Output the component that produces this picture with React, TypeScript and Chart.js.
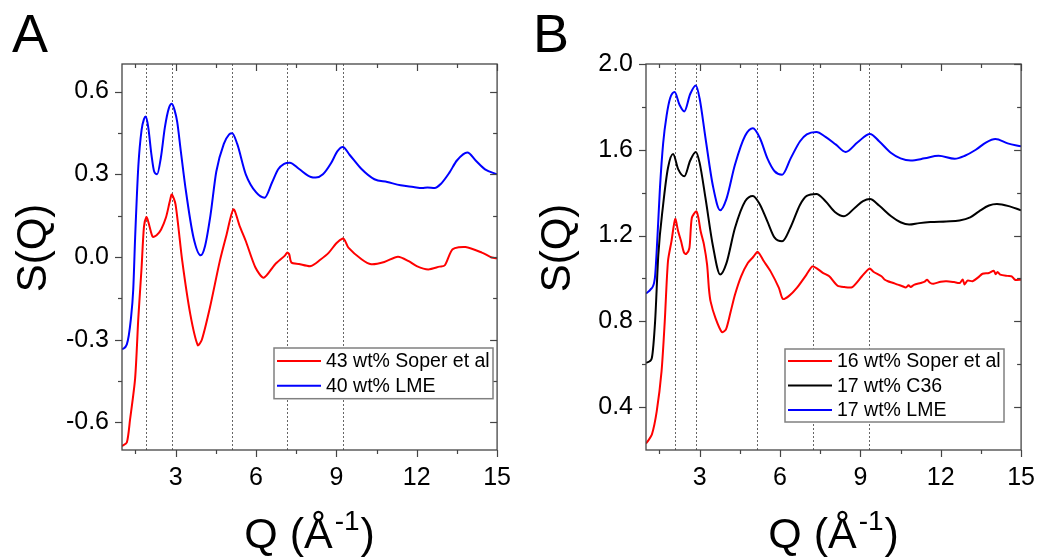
import React, { useEffect, useRef } from "react";
import { Chart, registerables } from "chart.js";

Chart.register(...registerables);

const FONT = "'Liberation Sans', Arial, sans-serif";

// ---------- axis ticks ----------
const xTicks = [3, 6, 9, 12, 15];
const xMinorTicks = [1.5, 4.5, 7.5, 10.5, 13.5];
const yTicksA = [-0.6, -0.3, 0, 0.3, 0.6];
const yMinorA = [-0.45, -0.15, 0.15, 0.45];
const yTicksB = [0.4, 0.8, 1.2, 1.6, 2.0];
const yMinorB = [0.6, 1.0, 1.4, 1.8];

// ---------- peak reference lines ----------
const peakLinesA = [1.91, 2.86, 5.1, 7.16, 9.24];
const peakLinesB = [2.09, 2.87, 5.13, 7.22, 9.31];

// ---------- panel A series ----------
const qRedA = [1.0, 1.18, 1.3, 1.49, 1.61, 1.73, 1.82, 1.91, 1.96, 2.03, 2.15, 2.3, 2.46, 2.64, 2.78, 2.86, 3.0, 3.25, 3.55, 3.83, 3.98, 4.28, 4.65, 4.9, 5.16, 5.4, 5.62, 5.98, 6.29, 6.71, 7.08, 7.16, 7.24, 7.32, 7.6, 8.05, 8.4, 8.72, 9.0, 9.24, 9.32, 9.45, 9.94, 10.3, 10.79, 11.3, 11.7, 12.0, 12.43, 12.85, 13.05, 13.34, 13.82, 14.43, 14.8, 15.0];
const sRedA = [-0.686, -0.673, -0.59, -0.44, -0.22, -0.04, 0.11, 0.145, 0.135, 0.11, 0.073, 0.08, 0.1, 0.143, 0.2, 0.227, 0.19, -0.015, -0.208, -0.32, -0.3, -0.184, -0.015, 0.08, 0.173, 0.11, 0.058, -0.038, -0.075, -0.027, 0.005, 0.016, 0.01, -0.02, -0.025, -0.033, -0.01, 0.016, 0.05, 0.067, 0.06, 0.034, -0.008, -0.026, -0.018, 0.001, -0.015, -0.033, -0.045, -0.035, -0.03, 0.028, 0.036, 0.016, -0.002, -0.005];

const qBlueA = [1.0, 1.18, 1.33, 1.42, 1.49, 1.61, 1.73, 1.82, 1.89, 1.98, 2.1, 2.2, 2.31, 2.45, 2.6, 2.75, 2.86, 2.97, 3.06, 3.2, 3.37, 3.67, 3.94, 4.1, 4.3, 4.52, 4.8, 5.0, 5.11, 5.3, 5.62, 6.0, 6.32, 6.6, 6.83, 7.05, 7.26, 7.6, 8.05, 8.23, 8.5, 8.8, 9.05, 9.24, 9.5, 9.93, 10.42, 10.9, 11.4, 11.88, 12.2, 12.4, 12.67, 12.9, 13.22, 13.5, 13.89, 14.2, 14.55, 15.0];
const sBlueA = [-0.335, -0.317, -0.226, -0.117, 0.07, 0.33, 0.46, 0.5, 0.51, 0.47, 0.37, 0.31, 0.3, 0.36, 0.47, 0.54, 0.556, 0.53, 0.49, 0.38, 0.25, 0.07, 0.006, 0.04, 0.15, 0.31, 0.41, 0.445, 0.449, 0.41, 0.3, 0.235, 0.215, 0.27, 0.318, 0.338, 0.342, 0.32, 0.29, 0.288, 0.3, 0.34, 0.385, 0.399, 0.37, 0.32, 0.282, 0.272, 0.26, 0.254, 0.25, 0.252, 0.25, 0.265, 0.306, 0.35, 0.379, 0.35, 0.318, 0.3];

// ---------- panel B series ----------
const qRedB = [1.0, 1.06, 1.22, 1.4, 1.58, 1.7, 1.82, 1.95, 2.09, 2.2, 2.31, 2.42, 2.5, 2.62, 2.71, 2.88, 2.96, 3.04, 3.16, 3.28, 3.35, 3.41, 3.59, 3.83, 3.98, 4.15, 4.32, 4.55, 4.8, 5.0, 5.17, 5.4, 5.65, 5.96, 6.11, 6.35, 6.63, 6.99, 7.21, 7.4, 7.6, 7.84, 8.15, 8.4, 8.7, 9.06, 9.34, 9.5, 9.79, 9.9, 10.03, 10.2, 10.4, 10.55, 10.7, 10.8, 10.88, 11.0, 11.25, 11.4, 11.49, 11.6, 11.73, 12.0, 12.22, 12.5, 12.71, 12.82, 12.89, 13.0, 13.19, 13.4, 13.56, 13.8, 13.98, 14.05, 14.12, 14.22, 14.5, 14.65, 14.77, 15.0];
const sRedB = [0.23, 0.24, 0.272, 0.38, 0.567, 0.8, 1.08, 1.173, 1.277, 1.22, 1.173, 1.12, 1.114, 1.142, 1.282, 1.313, 1.28, 1.22, 1.16, 1.064, 0.95, 0.893, 0.816, 0.75, 0.761, 0.84, 0.924, 1.01, 1.072, 1.1, 1.124, 1.08, 1.033, 0.956, 0.904, 0.92, 0.956, 1.018, 1.056, 1.045, 1.026, 1.01, 0.966, 0.96, 0.96, 1.01, 1.046, 1.03, 1.01, 0.995, 0.987, 0.98, 0.971, 0.965, 0.958, 0.968, 0.96, 0.97, 0.979, 0.985, 0.994, 0.98, 0.975, 0.985, 0.987, 0.983, 0.979, 0.995, 0.972, 0.99, 0.987, 1.005, 1.022, 1.025, 1.036, 1.02, 1.03, 1.018, 1.012, 1.01, 0.994, 0.994];

const qBlackB = [1.0, 1.15, 1.22, 1.34, 1.46, 1.64, 1.82, 2.01, 2.2, 2.43, 2.65, 2.86, 3.0, 3.22, 3.5, 3.77, 4.0, 4.32, 4.7, 4.99, 5.25, 5.53, 5.8, 6.08, 6.4, 6.75, 7.0, 7.36, 7.7, 8.05, 8.39, 8.8, 9.1, 9.36, 9.7, 10.15, 10.5, 10.82, 11.2, 11.61, 12.2, 12.7, 13.1, 13.43, 13.8, 14.1, 14.6, 15.0];
const sBlackB = [0.606, 0.615, 0.63, 0.8, 1.11, 1.344, 1.515, 1.58, 1.51, 1.476, 1.55, 1.59, 1.54, 1.375, 1.15, 1.018, 1.07, 1.235, 1.36, 1.385, 1.345, 1.266, 1.19, 1.173, 1.24, 1.344, 1.385, 1.394, 1.36, 1.31, 1.29, 1.33, 1.36, 1.37, 1.34, 1.29, 1.262, 1.251, 1.258, 1.263, 1.266, 1.27, 1.285, 1.313, 1.34, 1.347, 1.335, 1.318];

const qBlueB = [1.0, 1.18, 1.33, 1.43, 1.52, 1.64, 1.77, 1.9, 2.07, 2.25, 2.43, 2.65, 2.86, 3.0, 3.22, 3.5, 3.77, 4.0, 4.32, 4.7, 4.99, 5.25, 5.53, 5.8, 6.08, 6.4, 6.75, 7.0, 7.36, 7.7, 8.09, 8.45, 8.9, 9.36, 9.7, 10.15, 10.5, 10.88, 11.4, 11.92, 12.52, 12.9, 13.31, 13.7, 14.04, 14.5, 15.0];
const sBlueB = [0.93, 0.95, 1.0, 1.2, 1.42, 1.63, 1.76, 1.84, 1.869, 1.81, 1.779, 1.86, 1.9, 1.84, 1.655, 1.43, 1.318, 1.37, 1.53, 1.665, 1.7, 1.655, 1.56, 1.5, 1.484, 1.56, 1.64, 1.672, 1.683, 1.66, 1.624, 1.59, 1.635, 1.674, 1.64, 1.585, 1.56, 1.55, 1.56, 1.572, 1.558, 1.572, 1.6, 1.635, 1.65, 1.63, 1.616];

const zip = (q: number[], s: number[]) => {
  const n = Math.min(q.length, s.length);
  const out: { x: number; y: number }[] = [];
  for (let i = 0; i < n; i++) out.push({ x: q[i], y: s[i] });
  return out;
};

type PanelCfg = {
  left: number;
  letter: string;
  letterX: number;
  yMin: number;
  yMax: number;
  yTicks: number[];
  yMinor: number[];
  peaks: number[];
  datasets: any[];
  legend: { x: number; y: number; w: number; rowH: number; firstRow: number };
};

const line = (label: string, color: string, data: any[], smooth: boolean) => ({
  label,
  data,
  borderColor: color,
  backgroundColor: color,
  borderWidth: 2,
  pointRadius: 0,
  fill: false,
  tension: smooth ? 0.4 : 0.25,
  cubicInterpolationMode: smooth ? "monotone" : "default",
});

const panels: PanelCfg[] = [
  {
    left: 0,
    letter: "A",
    letterX: 12,
    yMin: -0.7,
    yMax: 0.7,
    yTicks: yTicksA,
    yMinor: yMinorA,
    peaks: peakLinesA,
    datasets: [
      line("43 wt% Soper et al", "#ff0000", zip(qRedA, sRedA), false),
      line("40 wt% LME", "#0000ff", zip(qBlueA, sBlueA), true),
    ],
    legend: { x: 274, y: 348, w: 219, rowH: 24.7, firstRow: 13 },
  },
  {
    left: 524,
    letter: "B",
    letterX: 9,
    yMin: 0.2,
    yMax: 2.0,
    yTicks: yTicksB,
    yMinor: yMinorB,
    peaks: peakLinesB,
    datasets: [
      line("16 wt% Soper et al", "#ff0000", zip(qRedB, sRedB), false),
      line("17 wt% C36", "#000000", zip(qBlackB, sBlackB), true),
      line("17 wt% LME", "#0000ff", zip(qBlueB, sBlueB), true),
    ],
    legend: { x: 261, y: 349, w: 219, rowH: 24.5, firstRow: 12 },
  },
];

function Panel({ cfg }: { cfg: PanelCfg }) {
  const ref = useRef<HTMLCanvasElement>(null);
  useEffect(() => {
    const decor = {
      id: "decor",
      beforeDatasetsDraw(chart: any) {
        const { ctx, chartArea } = chart;
        const xs = chart.scales.x;
        ctx.save();
        ctx.strokeStyle = "#666";
        ctx.lineWidth = 1;
        ctx.setLineDash([2, 2]);
        cfg.peaks.forEach((q) => {
          const px = Math.round(xs.getPixelForValue(q)) + 0.5;
          ctx.beginPath();
          ctx.moveTo(px, chartArea.top);
          ctx.lineTo(px, chartArea.bottom);
          ctx.stroke();
        });
        ctx.restore();
      },
      afterDatasetsDraw(chart: any) {
        const { ctx, chartArea } = chart;
        const { left, right, top, bottom } = chartArea;
        const xs = chart.scales.x;
        const ys = chart.scales.y;
        ctx.save();
        ctx.strokeStyle = "#444";
        ctx.lineWidth = 1.3;
        ctx.strokeRect(left, top, right - left, bottom - top);
        ctx.lineWidth = 1.2;
        const seg = (x1: number, y1: number, x2: number, y2: number) => {
          ctx.beginPath();
          ctx.moveTo(x1, y1);
          ctx.lineTo(x2, y2);
          ctx.stroke();
        };
        const xMaj = 7, xMin = 4;
        xTicks.forEach((v) => {
          const p = Math.round(xs.getPixelForValue(v)) + 0.5;
          seg(p, bottom, p, bottom + xMaj);
          seg(p, top, p, top + xMaj);
        });
        xMinorTicks.forEach((v) => {
          const p = Math.round(xs.getPixelForValue(v)) + 0.5;
          seg(p, bottom, p, bottom + xMin);
          seg(p, top, p, top + xMin);
        });
        cfg.yTicks.forEach((v) => {
          const p = Math.round(ys.getPixelForValue(v)) + 0.5;
          seg(left - xMaj, p, left, p);
          seg(right - xMaj, p, right, p);
        });
        cfg.yMinor.forEach((v) => {
          const p = Math.round(ys.getPixelForValue(v)) + 0.5;
          seg(left - xMin, p, left, p);
          seg(right - xMin, p, right, p);
        });

        // legend
        const L = cfg.legend;
        const ds = chart.data.datasets;
        const h = L.firstRow * 2 + L.rowH * (ds.length - 1);
        ctx.fillStyle = "#fff";
        ctx.fillRect(L.x, L.y, L.w, h);
        ctx.strokeStyle = "#808080";
        ctx.lineWidth = 1.5;
        ctx.strokeRect(L.x, L.y, L.w, h);
        ctx.font = `19.5px ${FONT}`;
        ctx.textBaseline = "middle";
        ctx.textAlign = "left";
        ds.forEach((d: any, i: number) => {
          const yy = L.y + L.firstRow + i * L.rowH;
          ctx.strokeStyle = d.borderColor;
          ctx.lineWidth = 2;
          seg(L.x + 3, yy, L.x + 47, yy);
          ctx.fillStyle = "#000";
          ctx.fillText(d.label, L.x + 52, yy + 1);
        });
        ctx.restore();
      },
      afterDraw(chart: any) {
        const { ctx, chartArea } = chart;
        ctx.save();
        ctx.fillStyle = "#000";
        // panel letter
        ctx.font = `54px ${FONT}`;
        ctx.textAlign = "left";
        ctx.textBaseline = "alphabetic";
        ctx.fillText(cfg.letter, cfg.letterX, 52);
        // y title
        ctx.save();
        ctx.translate(34, 248);
        ctx.rotate(-Math.PI / 2);
        ctx.font = `42px ${FONT}`;
        ctx.textAlign = "center";
        ctx.textBaseline = "middle";
        ctx.fillText("S(Q)", 0, 0);
        ctx.restore();
        // x title with superscript
        const big = `43px ${FONT}`;
        const small = `28px ${FONT}`;
        ctx.font = big;
        const p1 = "Q (Å";
        const w1 = ctx.measureText(p1).width;
        const w3 = ctx.measureText(")").width;
        ctx.font = small;
        const w2 = ctx.measureText("-1").width;
        const total = w1 + w2 + w3 + 3;
        let x0 = (chartArea.left + chartArea.right) / 2 - total / 2;
        ctx.textAlign = "left";
        ctx.font = big;
        ctx.fillText(p1, x0, 548);
        ctx.font = small;
        ctx.fillText("-1", x0 + w1 + 2, 530);
        ctx.font = big;
        ctx.fillText(")", x0 + w1 + w2 + 3, 548);
        ctx.restore();
      },
    };

    const chart = new Chart(ref.current!, {
      type: "line",
      data: { datasets: cfg.datasets },
      options: {
        responsive: false,
        animation: false,
        devicePixelRatio: 1,
        layout: { padding: { top: 64, right: 18, bottom: 0, left: 0 } },
        plugins: { legend: { display: false }, tooltip: { enabled: false } },
        scales: {
          x: {
            type: "linear",
            min: 1,
            max: 15,
            afterBuildTicks: (s: any) => {
              s.ticks = xTicks.map((v) => ({ value: v }));
            },
            afterFit: (s: any) => {
              s.height = 107;
            },
            grid: { display: false, drawTicks: false },
            border: { display: false },
            ticks: {
              color: "#000",
              font: { family: FONT, size: 25 },
              padding: 13,
              maxRotation: 0,
              autoSkip: false,
              callback: (v: any) => String(v),
            },
          },
          y: {
            type: "linear",
            min: cfg.yMin,
            max: cfg.yMax,
            afterBuildTicks: (s: any) => {
              s.ticks = cfg.yTicks.map((v) => ({ value: v }));
            },
            afterFit: (s: any) => {
              s.width = 122;
            },
            grid: { display: false, drawTicks: false },
            border: { display: false },
            ticks: {
              color: "#000",
              font: { family: FONT, size: 25 },
              padding: 13,
              autoSkip: false,
              callback: (v: any) => Number(v).toFixed(1),
            },
          },
        },
      } as any,
      plugins: [decor],
    });
    return () => chart.destroy();
  }, [cfg]);
  return (
    <canvas
      ref={ref}
      width={524}
      height={557}
      style={{ position: "absolute", left: cfg.left, top: 0, width: 524, height: 557 }}
    />
  );
}

export default function App() {
  return (
    <div
      style={{
        position: "fixed",
        left: 0,
        top: 0,
        width: 1048,
        height: 557,
        background: "#fff",
        overflow: "hidden",
      }}
    >
      {panels.map((p) => (
        <Panel key={p.letter} cfg={p} />
      ))}
    </div>
  );
}
